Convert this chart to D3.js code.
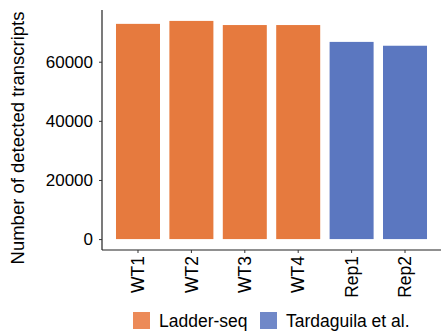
<!DOCTYPE html>
<html>
<head>
<meta charset="utf-8">
<script src="https://cdn.jsdelivr.net/npm/d3@7"></script>
<style>
  body { margin: 0; background: #fff; }
  text { font-family: "Liberation Sans", Arial, sans-serif; fill: #000; }
</style>
</head>
<body>
<svg id="chart" width="443" height="331"></svg>
<script>
// Detected transcripts per sample
const samples = ["WT1", "WT2", "WT3", "WT4", "Rep1", "Rep2"];
const counts = [72800, 73800, 72400, 72400, 66700, 65400];
const groups = ["Ladder-seq", "Ladder-seq", "Ladder-seq", "Ladder-seq", "Tardaguila et al.", "Tardaguila et al."];
const groupNames = ["Ladder-seq", "Tardaguila et al."];
const groupColors = ["#E67A3E", "#5B77C0"];
const legendColors = ["#EC8A58", "#7088C8"];
const yTicks = [0, 20000, 40000, 60000];

const svg = d3.select("#chart");
const plotLeft = 102, plotRight = 441, plotTop = 10, plotBottom = 250;

const x = d3.scaleBand()
  .domain(samples)
  .range([plotLeft, plotRight])
  .paddingInner(0.176)
  .paddingOuter(0.262);

const maxV = d3.max(counts);
const y = d3.scaleLinear()
  .domain([-0.05 * maxV, 1.05 * maxV])
  .range([plotBottom, plotTop]);

const fill = d3.scaleOrdinal().domain(groupNames).range(groupColors);

// bars
svg.append("g").selectAll("rect")
  .data(samples)
  .join("rect")
  .attr("x", d => x(d))
  .attr("width", x.bandwidth())
  .attr("y", (d, i) => y(counts[i]))
  .attr("height", (d, i) => y(0) - y(counts[i]))
  .attr("fill", (d, i) => fill(groups[i]));

// y axis
const yAxis = svg.append("g")
  .attr("transform", `translate(${plotLeft},0)`)
  .call(d3.axisLeft(y).tickValues(yTicks).tickFormat(d3.format("d")).tickSize(3).tickPadding(6));
yAxis.select(".domain").attr("d", `M0,${plotTop}V${plotBottom}`).attr("stroke", "#222").attr("stroke-width", 1.2);
yAxis.selectAll(".tick line").attr("stroke", "#333");
yAxis.selectAll(".tick text").attr("font-size", 17).attr("fill", "#000");

// x axis
const xAxis = svg.append("g")
  .attr("transform", `translate(0,${plotBottom})`)
  .call(d3.axisBottom(x).tickSize(3).tickPadding(5));
xAxis.select(".domain").attr("d", `M${plotLeft},0H${plotRight}`).attr("stroke", "#222").attr("stroke-width", 1.2);
xAxis.selectAll(".tick line").attr("stroke", "#333");
xAxis.selectAll(".tick text")
  .attr("font-size", 17.5)
  .attr("fill", "#000")
  .attr("transform", "rotate(-90)")
  .attr("text-anchor", "end")
  .attr("x", -6)
  .attr("y", 0)
  .attr("dy", "0.35em");

// y axis title
svg.append("text")
  .attr("transform", `translate(24,${(8 + 268) / 2}) rotate(-90)`)
  .attr("text-anchor", "middle")
  .attr("font-size", 18.5)
  .text("Number of detected transcripts");

// legend
const legendX = [133, 260];
const lg = svg.append("g").selectAll("g")
  .data(groupNames)
  .join("g")
  .attr("transform", (d, i) => `translate(${legendX[i]},312)`);
lg.append("rect")
  .attr("width", 17).attr("height", 17)
  .attr("fill", (d, i) => legendColors[i]);
lg.append("text")
  .attr("x", 26).attr("y", 15)
  .attr("font-size", 17.5)
  .text(d => d);
</script>
</body>
</html>
